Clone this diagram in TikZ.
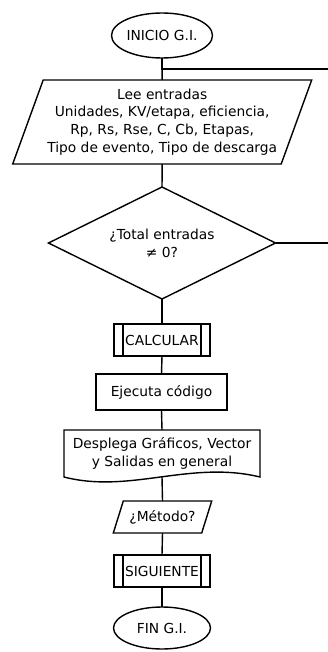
\documentclass[tikz,border=0pt]{standalone}
\usepackage{fontspec}
\setmainfont{DejaVu Sans}
\usetikzlibrary{shapes.geometric}
\begin{document}
\begin{tikzpicture}[x=1pt,y=-1pt,
  every node/.style={font=\fontsize{13.8}{17.8}\selectfont, inner sep=0pt, outer sep=0pt, align=center},
  lw/.style={line width=1.4pt, line join=miter},
  term/.style={ellipse, draw, lw},
  procbox/.style={rectangle, draw, lw},
  ghost/.style={rectangle},
  subr/.style={rectangle, draw, lw, minimum width=96, minimum height=32,
    path picture={
      \draw[lw] ([xshift=9pt]path picture bounding box.north west) -- ([xshift=9pt]path picture bounding box.south west);
      \draw[lw] ([xshift=-9pt]path picture bounding box.north east) -- ([xshift=-9pt]path picture bounding box.south east);
    }},
  decis/.style={diamond, draw, lw, shape aspect=2},
  conn/.style={lw}
]
\useasboundingbox (0,0) rectangle (328,652);

\node[term, minimum width=101, minimum height=45] (ini) at (162,35.5) {INICIO G.I.};

\node[ghost, minimum width=299, minimum height=84] (lee) at (162.2,122)
  {Lee entradas\\Unidades, KV/etapa, eficiencia,\\Rp, Rs, Rse, C, Cb, Etapas,\\Tipo de evento, Tipo de descarga};
\draw[lw] ([xshift=30.5pt]lee.north west) -- (lee.north east) -- ([xshift=-30.5pt]lee.south east) -- (lee.south west) -- cycle;

\node[decis, minimum width=227, minimum height=112] (dec) at (162,243) {¿Total entradas\\≠ 0?};

\node[subr] (calc) at (162,340) {CALCULAR};

\node[procbox, minimum width=131, minimum height=36] (eje) at (161.5,392) {Ejecuta código};

\node[ghost, minimum width=196, minimum height=47] (dsp) at (162,453.5)
  {Desplega Gráficos, Vector\\y Salidas en general};
\draw[lw] (dsp.south west) -- (dsp.north west) -- (dsp.north east) -- (dsp.south east)
  .. controls ([shift={(-70,-17)}]dsp.south east) and ([shift={(66,17)}]dsp.south west) .. (dsp.south west) -- cycle;

\node[ghost, minimum width=98.4, minimum height=32] (met) at (162.5,517) {¿Método?};
\draw[lw] ([xshift=10pt]met.north west) -- (met.north east) -- ([xshift=-10pt]met.south east) -- (met.south west) -- cycle;

\node[subr] (sig) at (162,571) {SIGUIENTE};

\node[term, minimum width=97, minimum height=42] (fin) at (162,628) {FIN G.I.};

\coordinate (jr) at (328,69);
\coordinate (dr) at (328,243);

\draw[conn] (ini.south) -- (lee.north);
\draw[conn] (jr) -| (ini.south);
\draw[conn] (lee.south) -- (dec.north);
\draw[conn] (dec.east) -- (dr);
\draw[conn] (dec.south) -- (calc.north);
\draw[conn] (calc.south) -- (eje.north);
\draw[conn] (eje.south) -- (dsp.north);
\draw[conn] (dsp.south) -- (met.north);
\draw[conn] (met.south) -- (sig.north);
\draw[conn] (sig.south) -- (fin.north);
\end{tikzpicture}
\end{document}
